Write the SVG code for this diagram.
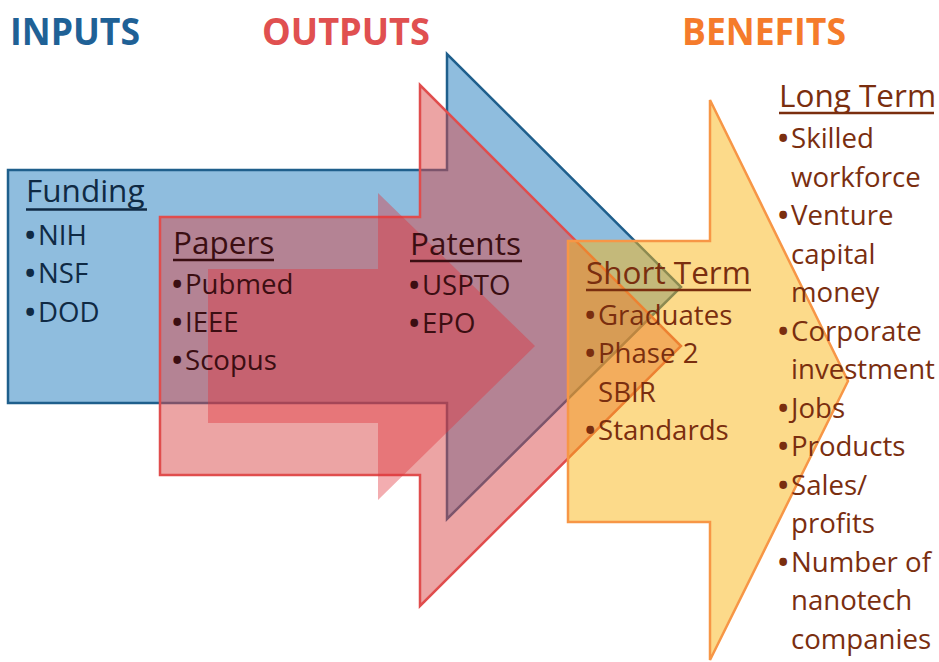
<svg xmlns="http://www.w3.org/2000/svg" width="939" height="662" viewBox="0 0 939 662">
  <style>
    text { font-family: "Open Sans", "Noto Sans", "Liberation Sans", sans-serif; }
    .hdr { font-weight: bold; font-size: 38px; }
    .title { font-size: 31.5px; }
    .item { font-size: 27.6px; }
    .b { font-weight: bold; }
    .blueTxt { fill: #0f2a44; }
    .redTxt { fill: #3b0e12; }
    .orgTxt { fill: #7a2e0f; }
    .ul { stroke-width: 2.6; }
  </style>

  <!-- header labels -->
  <g id="headers">
    <text class="hdr" x="10" y="45" fill="#1f6196" textLength="130" lengthAdjust="spacingAndGlyphs">INPUTS</text>
    <text class="hdr" x="262" y="45" fill="#e05050" textLength="168" lengthAdjust="spacingAndGlyphs">OUTPUTS</text>
    <text class="hdr" x="682" y="45" fill="#f57b2b" textLength="164" lengthAdjust="spacingAndGlyphs">BENEFITS</text>
  </g>

  <!-- block arrows, back to front -->
  <g id="arrows">
    <path id="inputs-arrow" d="M8,170 H447 V54 L681,287 L447,519 V403 H8 Z" fill="#8fbdde" stroke="#1f5f8c" stroke-width="2.5" stroke-linejoin="miter"/>
    <path id="outputs-arrow" d="M160,217 H420 V85 L681,346 L420,606 V475 H160 Z" fill="#d94949" fill-opacity="0.5" stroke="#e04d4d" stroke-width="2.5"/>
    <path id="outputs-inner-arrow" d="M208,269 H378 V193 L535,346 L378,500 V423 H208 Z" fill="#e0333a" fill-opacity="0.4"/>
    <path id="benefits-arrow" d="M568,241 H710 V100 L848,381 L710,660 V522 H568 Z" fill="#f9b515" fill-opacity="0.5" stroke="#f79646" stroke-width="2.5"/>
  </g>

  <!-- Funding -->
  <g id="funding">
    <text class="title blueTxt" x="26" y="202">Funding</text>
    <line class="ul" x1="26" y1="209.5" x2="147" y2="209.5" stroke="#0f2a44"/>
    <text class="item blueTxt" y="245"><tspan class="b" x="25">•</tspan><tspan x="38">NIH</tspan></text>
    <text class="item blueTxt" y="283"><tspan class="b" x="25">•</tspan><tspan x="38">NSF</tspan></text>
    <text class="item blueTxt" y="322"><tspan class="b" x="25">•</tspan><tspan x="38">DOD</tspan></text>
  </g>

  <!-- Papers -->
  <g id="papers">
    <text class="title redTxt" x="173" y="254">Papers</text>
    <line class="ul" x1="173" y1="260" x2="274" y2="260" stroke="#3b0e12"/>
    <text class="item redTxt" y="294"><tspan class="b" x="172">•</tspan><tspan x="185">Pubmed</tspan></text>
    <text class="item redTxt" y="332"><tspan class="b" x="172">•</tspan><tspan x="185">IEEE</tspan></text>
    <text class="item redTxt" y="370"><tspan class="b" x="172">•</tspan><tspan x="185">Scopus</tspan></text>
  </g>

  <!-- Patents -->
  <g id="patents">
    <text class="title redTxt" x="410" y="255">Patents</text>
    <line class="ul" x1="410" y1="261" x2="522" y2="261" stroke="#3b0e12"/>
    <text class="item redTxt" y="295"><tspan class="b" x="409">•</tspan><tspan x="422">USPTO</tspan></text>
    <text class="item redTxt" y="333"><tspan class="b" x="409">•</tspan><tspan x="422">EPO</tspan></text>
  </g>

  <!-- Short Term -->
  <g id="short-term">
    <text class="title orgTxt" x="586" y="284">Short Term</text>
    <line class="ul" x1="586" y1="290" x2="751" y2="290" stroke="#7a2e0f"/>
    <text class="item orgTxt" y="325"><tspan class="b" x="585">•</tspan><tspan x="598">Graduates</tspan></text>
    <text class="item orgTxt" y="363"><tspan class="b" x="585">•</tspan><tspan x="598">Phase 2</tspan></text>
    <text class="item orgTxt" x="598" y="402">SBIR</text>
    <text class="item orgTxt" y="440"><tspan class="b" x="585">•</tspan><tspan x="598">Standards</tspan></text>
  </g>

  <!-- Long Term -->
  <g id="long-term">
    <text class="title orgTxt" x="779" y="107">Long Term</text>
    <line class="ul" x1="779" y1="113" x2="934" y2="113" stroke="#7a2e0f"/>
    <text class="item orgTxt" y="148"><tspan class="b" x="778">•</tspan><tspan x="791">Skilled</tspan></text>
    <text class="item orgTxt" x="791" y="186.5">workforce</text>
    <text class="item orgTxt" y="225"><tspan class="b" x="778">•</tspan><tspan x="791">Venture</tspan></text>
    <text class="item orgTxt" x="791" y="263.5">capital</text>
    <text class="item orgTxt" x="791" y="302">money</text>
    <text class="item orgTxt" y="340.5"><tspan class="b" x="778">•</tspan><tspan x="791">Corporate</tspan></text>
    <text class="item orgTxt" x="791" y="379">investment</text>
    <text class="item orgTxt" y="417.5"><tspan class="b" x="778">•</tspan><tspan x="791">Jobs</tspan></text>
    <text class="item orgTxt" y="456"><tspan class="b" x="778">•</tspan><tspan x="791">Products</tspan></text>
    <text class="item orgTxt" y="494.5"><tspan class="b" x="778">•</tspan><tspan x="791">Sales/</tspan></text>
    <text class="item orgTxt" x="791" y="533">profits</text>
    <text class="item orgTxt" y="571.5"><tspan class="b" x="778">•</tspan><tspan x="791">Number of</tspan></text>
    <text class="item orgTxt" x="791" y="610">nanotech</text>
    <text class="item orgTxt" x="791" y="648.5">companies</text>
  </g>
</svg>
